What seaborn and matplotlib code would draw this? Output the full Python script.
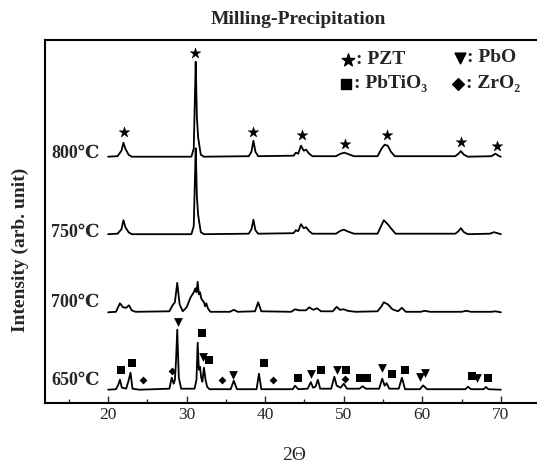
import numpy as np
import pandas as pd
import matplotlib
matplotlib.use("Agg")
import matplotlib.pyplot as plt
import seaborn as sns

# ---------------- data ----------------
samples = ["800℃", "750℃", "700℃", "650℃"]

x_800 = [20, 21.2, 21.7, 21.95, 22.2, 22.6, 23.0, 30.6, 30.9, 31.05, 31.15, 31.3, 31.45,
         31.6, 31.8, 32.2, 37.9, 38.25, 38.5, 38.75, 39.1, 43.6, 43.9, 44.2, 44.55, 44.9,
         45.2, 45.6, 46.0, 49.0, 49.6, 50.1, 50.6, 51.3, 54.3, 54.8, 55.2, 55.6, 56.0, 56.5,
         64.2, 64.6, 64.9, 65.3, 65.8, 68.8, 69.3, 69.8, 70]
h_800 = [0, 0.5, 6, 14, 8, 2, 0, 0, 8, 60, 95, 40, 20,
         12, 2, 0, 0.5, 5, 16, 5, 0.5, 1, 4, 3, 11, 6,
         7, 3, 0.5, 0.5, 3, 4, 2.5, 0.5, 0.5, 8, 12, 11, 5, 0.5,
         0.5, 3, 5.5, 2, 0, 0.5, 3, 0.5, 0]

x_750 = [20, 21.2, 21.7, 21.95, 22.2, 22.6, 23.0, 30.6, 30.9, 31.05, 31.15, 31.3, 31.45,
         31.6, 31.8, 32.2, 37.9, 38.25, 38.5, 38.75, 39.1, 43.6, 43.9, 44.2, 44.55, 44.9,
         45.2, 45.6, 46.0, 49.0, 49.6, 50.0, 50.6, 51.3, 54.3, 54.8, 55.1, 55.6, 56.0, 56.6,
         64.2, 64.6, 64.9, 65.3, 65.8, 68.6, 69.1, 69.8, 70]
h_750 = [0, 0.5, 5, 14, 7, 2, 0, 0, 8, 55, 86, 38, 20,
         12, 2, 0, 0.5, 5, 14.5, 4, 0.5, 1, 4, 3, 10, 6,
         7, 3, 0.5, 0.5, 3.5, 4.5, 2.5, 0.5, 0.5, 9, 14, 10, 6, 0.5,
         0.5, 3, 6, 2, 0, 0.5, 2, 0.5, 0]

x_700 = [20, 21.0, 21.5, 21.9, 22.3, 22.65, 23.0, 23.5, 27.8, 28.2, 28.5, 28.8, 29.1, 29.5,
         30.0, 30.5, 30.9, 31.1, 31.25, 31.4, 31.55, 31.7, 31.85, 32.0, 32.2, 32.35, 32.5,
         32.7, 33.0, 35.5, 36.0, 36.5, 38.7, 39.1, 39.5, 43.3, 43.8, 44.3, 45.2, 45.6, 46.1,
         46.6, 47.1, 48.6, 49.1, 49.5, 50.0, 50.5, 51.5, 54.3, 54.8, 55.1, 55.6, 56.2, 56.9,
         57.4, 57.9, 59.8, 60.3, 61.0, 65.0, 65.6, 66.2, 68.8, 69.3, 70]
h_700 = [0, 0.5, 9, 5, 4.5, 7, 2, 0.5, 1, 7, 10, 29.5, 8, 1,
         5, 15, 20, 24, 20, 30.5, 18, 20, 14, 12, 10, 6, 9,
         4, 0.5, 0.5, 2.5, 0.5, 1, 10, 1, 0.5, 3, 2, 2, 5, 2.5,
         4, 1, 1, 5.5, 2.5, 3, 1.5, 0.5, 1, 6, 10, 8, 3, 1,
         4.5, 0.5, 0.5, 1.5, 0.5, 0.5, 1.5, 0.5, 0.5, 1, 0]

x_650 = [20, 21.0, 21.3, 21.5, 21.75, 22.3, 22.6, 22.85, 23.1, 24.0, 27.8, 28.1, 28.35, 28.5,
         28.65, 28.8, 29.0, 29.3, 31.0, 31.25, 31.4, 31.55, 31.7, 31.85, 32.0, 32.2, 32.4,
         32.6, 32.9, 35.6, 36.0, 36.4, 38.9, 39.2, 39.5, 43.5, 43.8, 44.2, 45.4, 45.8, 46.1,
         46.4, 46.7, 47.0, 48.4, 48.8, 49.1, 49.6, 50.0, 50.4, 52.0, 52.4, 52.8, 54.5, 54.9,
         55.2, 55.45, 55.8, 57.0, 57.4, 57.8, 59.7, 60.1, 60.6, 65.5, 65.8, 66.2, 67.8, 68.1,
         68.4, 70]
h_650 = [0, 0.5, 5, 10, 2, 1, 9, 17, 1, 0, 1, 12, 6, 10,
         30, 60, 12, 1, 1, 10, 47, 20, 23, 12, 8, 22, 10,
         3, 0.5, 0.5, 9, 0.5, 0.5, 16, 0.5, 0.5, 4, 0.5, 1, 7.5, 2,
         3, 10, 1, 1, 13, 4, 2, 6, 1, 1, 3.5, 1, 1, 11,
         4, 6.5, 1, 1, 12, 0.5, 0.5, 4.3, 0.5, 0.5, 3, 0.5, 0.5, 2.7,
         0.5, 0]

# phase markers (2theta, plotted height)
pzt_x = [22.0, 31.1, 38.5, 44.7, 50.1, 55.5, 64.9, 69.45]
pzt_y = [271, 350, 271, 268, 259, 268, 261, 257]
pbtio3_x = [21.7, 23.1, 31.9, 32.8, 39.8, 44.2, 47.1, 50.3, 52.1, 53.0, 56.1, 57.8, 66.3, 68.4]
pbtio3_y = [33, 40, 70, 43, 40, 25, 33, 33, 25, 25, 29, 33, 27, 25]
pbo_x = [28.9, 32.1, 35.9, 45.8, 49.1, 54.9, 59.7, 60.35, 67.0]
pbo_y = [81, 46, 28, 29, 33, 35, 26, 30, 25]
zro2_x = [24.5, 28.15, 34.45, 41.0, 50.2]
zro2_y = [23, 32, 23, 23, 24]

xticks = [20, 30, 40, 50, 60, 70]

# ---------------- layout ----------------
offsets = {"800℃": 246, "750℃": 168.5, "700℃": 90.4, "650℃": 13}
label_y = {"800℃": 249, "750℃": 170, "700℃": 100, "650℃": 22}
traces = {"800℃": (x_800, h_800), "750℃": (x_750, h_750),
          "700℃": (x_700, h_700), "650℃": (x_650, h_650)}

rows = []
for s in samples:
    xs, hs = traces[s]
    for a, b in zip(xs, hs):
        rows.append({"two_theta": a, "intensity": b + offsets[s], "sample": s})
df = pd.DataFrame(rows)

sns.set_style("white")
serif = ["Liberation Serif", "DejaVu Serif", "DejaVu Sans"]
plt.rcParams["font.family"] = serif

W, H = 537, 466
fig = plt.figure(figsize=(W / 100, H / 100), dpi=100)
ax = fig.add_axes([44.5 / W, (H - 402.7) / H, 1 - 44.5 / W, (402.7 - 40) / H])

sns.lineplot(data=df, x="two_theta", y="intensity", units="sample", estimator=None,
             sort=False, color="black", linewidth=1.3, ax=ax)

sns.scatterplot(x=pzt_x, y=pzt_y, marker="*", s=65, color="black", edgecolor="black",
                linewidth=0.3, ax=ax)
sns.scatterplot(x=pbtio3_x, y=pbtio3_y, marker="s", s=40, color="black", edgecolor="black",
                linewidth=0, ax=ax)
sns.scatterplot(x=pbo_x, y=pbo_y, marker="v", s=40, color="black", edgecolor="black",
                linewidth=0, ax=ax)
sns.scatterplot(x=zro2_x, y=zro2_y, marker="D", s=16, color="black", edgecolor="black",
                linewidth=0, ax=ax)

ax.set_xlim(11.9, 74.6)
ax.set_ylim(0, 362.7)
ax.set_xticks(xticks)
ax.set_xticks([15, 25, 35, 45, 55, 65], minor=True)
ax.set_xticklabels([str(t) for t in xticks], fontsize=12.5, family=serif)
ax.set_yticks([])
ax.tick_params(axis="x", which="major", direction="in", length=5, width=1, pad=3,
               bottom=True, top=False)
ax.tick_params(axis="x", which="minor", direction="in", length=3, width=1, bottom=True)
ax.set_xlabel("")
ax.set_ylabel("")
for side in ["left", "bottom", "top"]:
    ax.spines[side].set_linewidth(1.5)
    ax.spines[side].set_color("black")
ax.spines["right"].set_visible(False)

# temperature labels
for s in samples:
    ax.text(18.9, label_y[s], s, ha="right", va="center", fontsize=13,
            fontweight="bold", family=serif)

# legend drawn as marker + text at pixel positions
leg = [("*", 90, (347.5, 60), ": PZT", 356),
       ("v", 60, (460, 58), ": PbO", 467),
       ("s", 60, (346, 84), ": PbTiO₃", 354),
       ("D", 36, (458, 84), ": ZrO₂", 466)]
for m, sz, (mx, my), txt, tx in leg:
    ax.scatter([(mx - 44.5) / (W - 44.5)], [(402.7 - my) / 362.7],
               marker=m, s=sz, color="black", transform=ax.transAxes, clip_on=False)
    fig.text(tx / W, 1 - my / H, txt, ha="left", va="center", fontsize=14,
             fontweight="bold", family=serif)

fig.text(298 / W, 1 - 19 / H, "Milling-Precipitation", ha="center", va="center",
         fontsize=14, fontweight="bold", family=serif)
fig.text(20 / W, 1 - 250 / H, "Intensity (arb. unit)", ha="center", va="center",
         rotation=90, fontsize=14, fontweight="bold", family=serif)
fig.text(294 / W, 1 - 456 / H, "2Θ", ha="center", va="center", fontsize=14, family=serif)

fig.savefig("out.png", dpi=100)
